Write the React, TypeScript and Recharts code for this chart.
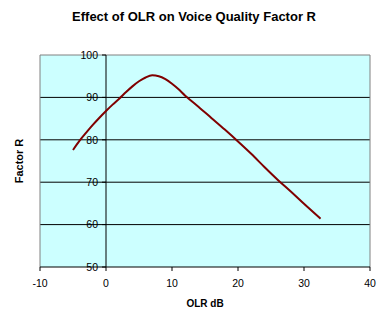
import React from 'react';
import { LineChart, Line, XAxis, YAxis, CartesianGrid, ReferenceLine } from 'recharts';

const olrValues = [-5, -4, -3, -2, -1, 0, 1, 2, 3, 4, 5, 6, 7, 8, 9, 10, 11, 12, 13, 14, 16, 18, 20, 22, 24, 26, 28, 30, 32.5];
const factorR = [77.6, 79.8, 81.7, 83.5, 85.2, 86.8, 88.3, 89.7, 91.2, 92.6, 93.8, 94.7, 95.2, 95.0, 94.3, 93.2, 91.9, 90.4, 89.1, 87.8, 85.1, 82.4, 79.6, 76.7, 73.6, 70.6, 67.8, 64.9, 61.4];
const xTicks = [-10, 0, 10, 20, 30, 40];
const yTicks = [50, 60, 70, 80, 90, 100];
const gridValues = [60, 70, 80, 90];

const data = olrValues.map((olr, i) => ({ olr, r: factorR[i] }));

const W = 388;
const H = 326;
const MARGIN = { top: 55, right: 18, bottom: 29, left: 39 };
const Y_AXIS_W = 1;
const X_MIN = -10;
const X_MAX = 40;
const PLOT_W = W - MARGIN.left - Y_AXIS_W - MARGIN.right;
const AXIS_SHIFT = (PLOT_W * (0 - X_MIN)) / (X_MAX - X_MIN);
const FONT = '"Liberation Sans", Arial, sans-serif';

const YTick = (props: any) => {
  const { x, y, payload } = props;
  const ax = x + AXIS_SHIFT;
  return (
    <g>
      <line x1={ax - 4} x2={ax} y1={y} y2={y} stroke="#000" />
      <text x={ax - 8} y={y} dy="0.36em" textAnchor="end" fontSize={10.5} fontFamily={FONT} fill="#000">
        {payload.value}
      </text>
    </g>
  );
};

export default function App() {
  return (
    <div style={{ position: 'absolute', left: 0, top: 0, width: W, height: H, background: '#fff', fontFamily: FONT }}>
      <div style={{ position: 'absolute', left: 0, top: 10, width: W, textAlign: 'center', fontSize: 13, lineHeight: '13px', fontWeight: 'bold', color: '#000' }}>
        Effect of OLR on Voice Quality Factor R
      </div>
      <div style={{ position: 'absolute', left: 19, top: 161, transform: 'translate(-50%, -50%) rotate(-90deg)', fontSize: 11, lineHeight: '11px', fontWeight: 'bold', whiteSpace: 'nowrap', color: '#000' }}>
        Factor R
      </div>
      <div style={{ position: 'absolute', left: 205, top: 298.5, transform: 'translateX(-50%)', fontSize: 10, lineHeight: '10px', fontWeight: 'bold', whiteSpace: 'nowrap', color: '#000' }}>
        OLR dB
      </div>
      <LineChart width={W} height={H} data={data} margin={MARGIN} style={{ position: 'absolute', left: 0, top: 0 }}>
        <CartesianGrid fill="#CCFFFF" fillOpacity={1} stroke="#000" vertical={false} horizontalValues={gridValues} />
        <XAxis
          dataKey="olr"
          type="number"
          domain={[X_MIN, X_MAX]}
          ticks={xTicks}
          allowDataOverflow
          height={30}
          tickSize={4}
          tickMargin={9}
          stroke="#000"
          tick={{ fontSize: 10.5, fill: '#000', fontFamily: FONT }}
        />
        <YAxis
          type="number"
          domain={[50, 100]}
          ticks={yTicks}
          allowDataOverflow
          width={Y_AXIS_W}
          axisLine={false}
          tickLine={false}
          tickSize={0}
          tickMargin={0}
          tick={<YTick />}
        />
        <ReferenceLine x={X_MIN} stroke="#808080" />
        <ReferenceLine x={X_MAX} stroke="#808080" />
        <ReferenceLine y={100} stroke="#808080" />
        <ReferenceLine x={0} stroke="#000" />
        <Line type="monotone" dataKey="r" stroke="#800000" strokeWidth={2} dot={false} isAnimationActive={false} />
      </LineChart>
    </div>
  );
}
